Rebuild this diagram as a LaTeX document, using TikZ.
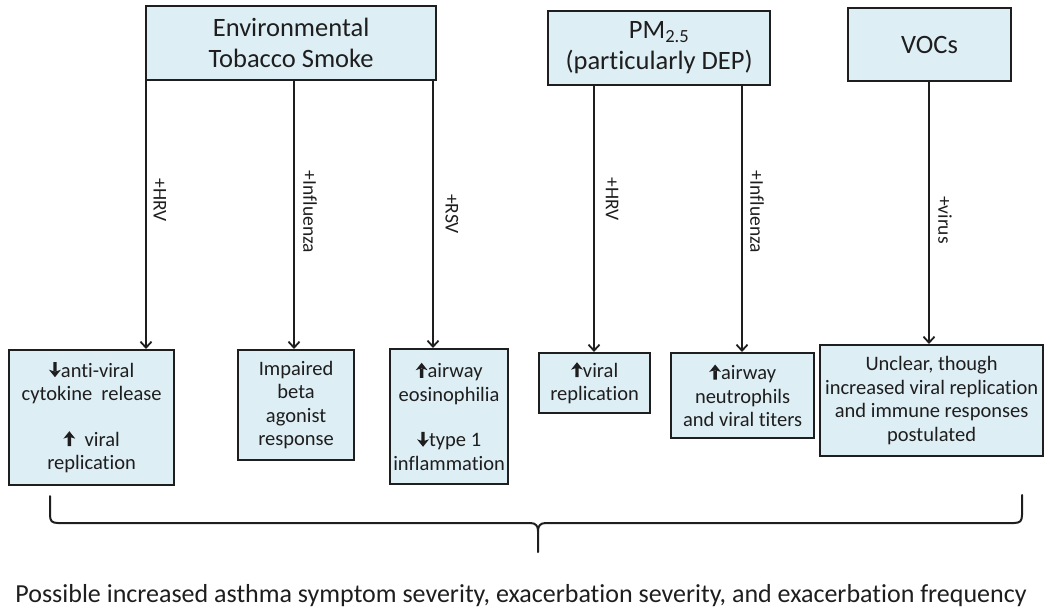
\documentclass[tikz,border=0pt]{standalone}
\usepackage{fontspec}
\setmainfont{Carlito}[Ligatures=NoCommon]
\usetikzlibrary{arrows.meta}
\definecolor{boxfill}{RGB}{222,238,245}
\definecolor{ink}{RGB}{30,30,30}
\newcommand{\upar}{\tikz[baseline=0pt,x=1pt,y=1pt]{\fill[ink] (4.3,0) rectangle (7.7,9) (0,7.5) -- (6,15) -- (12,7.5) -- (6,9.5) -- cycle;}}
\newcommand{\dnar}{\tikz[baseline=0pt,x=1pt,y=1pt]{\fill[ink] (4.3,15) rectangle (7.7,6) (0,7.5) -- (6,0) -- (12,7.5) -- (6,5.5) -- cycle;}}
\begin{document}
\begin{tikzpicture}[x=1pt,y=-1pt,
  box/.style={draw=ink, line width=2.2pt, fill=boxfill, align=center, anchor=north west, inner sep=2pt, text=ink},
  topbox/.style={box, font=\fontsize{26.5}{31}\selectfont},
  lowbox/.style={box, font=\fontsize{20.5}{23.5}\selectfont},
  conn/.style={draw=ink, line width=1.8pt, -{Straight Barb[length=6pt,width=11pt,line width=1.8pt]}},
  lbl/.style={rotate=-90, font=\fontsize{19.5}{22}\selectfont, text=ink, inner sep=0pt},
  brace/.style={draw=ink, line width=2pt, line cap=round, line join=round}]
\useasboundingbox (0,0) rectangle (1050,613);

% top boxes
\node[topbox, minimum width=290pt, minimum height=74pt] (ets) at (145,5) {Environmental\\Tobacco Smoke};
\node[topbox, minimum width=222pt, minimum height=74pt] (pm) at (547,10) {PM\textsubscript{2.5}\\(particularly DEP)};
\node[topbox, minimum width=163pt, minimum height=73pt] (voc) at (847,7) {VOCs};

% bottom boxes
\node[lowbox, minimum width=165pt, minimum height=135pt] (b1) at (8,349) {\dnar anti-viral\\cytokine\ \ release\\[22pt]\upar\ \ viral\\replication};
\node[lowbox, minimum width=116pt, minimum height=110pt] (b2) at (237,349) {Impaired\\beta\\agonist\\response};
\node[lowbox, minimum width=118pt, minimum height=135pt] (b3) at (389,348) {\upar airway\\eosinophilia\\[22pt]\dnar type 1\\inflammation};
\node[lowbox, minimum width=111pt, minimum height=60pt] (b4) at (538,352) {\upar viral\\replication};
\node[lowbox, minimum width=143pt, minimum height=85pt] (b5) at (670,352) {\upar airway\\neutrophils\\and viral titers};
\node[lowbox, minimum width=223pt, minimum height=111pt] (b6) at (819,344) {Unclear, though\\increased viral replication\\and immune responses\\postulated};

% arrow x positions
\coordinate (x1) at (146,0);
\coordinate (x2) at (294,0);
\coordinate (x3) at (433,0);
\coordinate (x4) at (594,0);
\coordinate (x5) at (742,0);
\coordinate (x6) at (929,0);

\draw[conn] (ets.south -| x1) -- (b1.north -| x1);
\draw[conn] (ets.south -| x2) -- (b2.north -| x2);
\draw[conn] (ets.south -| x3) -- (b3.north -| x3);
\draw[conn] (pm.south -| x4) -- (b4.north -| x4);
\draw[conn] (pm.south -| x5) -- (b5.north -| x5);
\draw[conn] (voc.south -| x6) -- (b6.north -| x6);

% labels
\node[lbl] (l1) at (160,200) {+HRV};
\node[lbl] (l2) at (310,212) {+Influenza};
\node[lbl] (l3) at (452,214) {+RSV};
\node[lbl] (l4) at (612,199) {+HRV};
\node[lbl] (l5) at (757,212) {+Influenza};
\node[lbl] (l6) at (945,220) {+virus};

% brace
\draw[brace] (50,496) -- (50,515) .. controls (50,521) and (52,523) .. (58,523) -- (530,523) .. controls (536,523) and (538,526) .. (538,531) -- (538,552);
\draw[brace] (538,531) .. controls (538,526) and (540,523) .. (546,523) -- (1014,523) .. controls (1020,523) and (1022,521) .. (1022,515) -- (1022,495);

% result
\node[font=\fontsize{26}{30}\selectfont, text=ink, anchor=base, inner sep=0pt] (res) at (521,602) {Possible increased asthma symptom severity, exacerbation severity, and exacerbation frequency};
\end{tikzpicture}
\end{document}
